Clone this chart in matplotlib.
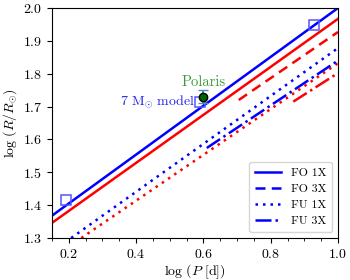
import matplotlib
matplotlib.use("Agg")
import matplotlib.pyplot as plt
from matplotlib.ticker import MultipleLocator
from matplotlib.lines import Line2D

plt.rcParams['font.family'] = 'serif'
plt.rcParams['font.serif'] = ['cmr10']
plt.rcParams['mathtext.fontset'] = 'cm'
plt.rcParams['axes.formatter.use_mathtext'] = True
plt.rcParams['font.size'] = 10

# P-R relation lines (endpoints in log P, log R)
fo1_blue_x = [0.15, 1.0]; fo1_blue_y = [1.368, 2.0]
fo1_red_x = [0.15, 1.0];  fo1_red_y = [1.346, 1.967]
fo3_red_x = [0.705, 1.0]; fo3_red_y = [1.72, 1.927]
fu1_blue_x = [0.207, 1.0]; fu1_blue_y = [1.30, 1.878]
fu1_red_x = [0.237, 1.0];  fu1_red_y = [1.30, 1.832]
fu3_blue_x = [0.61, 1.0];  fu3_blue_y = [1.574, 1.84]
fu3_red_x = [0.867, 1.0];  fu3_red_y = [1.715, 1.802]

# 7 Msun model points
model_x = [0.191, 0.589, 0.928]
model_y = [1.416, 1.715, 1.948]

# Polaris
polaris_x = [0.599]
polaris_y = [1.730]
polaris_err = [0.02]

legend_labels = ['FO 1X', 'FO 3X', 'FU 1X', 'FU 3X']

dash = (0, (4, 2.5))
dot = (0, (1, 2))

fig = plt.figure(figsize=(3.5, 2.8), dpi=100)
ax = fig.add_axes([52/350, 1 - 238/280, (338-52)/350, (238-8)/280])

ax.plot(fo1_blue_x, fo1_blue_y, color='blue', lw=1.8, ls='-')
ax.plot(fo1_red_x, fo1_red_y, color='red', lw=1.8, ls='-')
ax.plot(fo3_red_x, fo3_red_y, color='red', lw=1.8, ls=dash)
ax.plot(fu1_blue_x, fu1_blue_y, color='blue', lw=1.8, ls=dot)
ax.plot(fu1_red_x, fu1_red_y, color='red', lw=1.8, ls=dot)
ax.plot(fu3_blue_x, fu3_blue_y, color='blue', lw=1.8, ls='-.')
ax.plot(fu3_red_x, fu3_red_y, color='red', lw=1.8, ls='-.')

ax.plot(model_x, model_y, ls='none', marker='s', ms=6.5, mfc='none',
        mec='#5555ff', mew=1.1)
ax.errorbar(polaris_x, polaris_y, yerr=polaris_err, fmt='o', ms=6,
            mfc='#006400', mec='black', mew=1.0, ecolor='#4a8fb5',
            elinewidth=1.5, capsize=3.5, capthick=1.5, zorder=5)

ax.text(0.599, 1.755, 'Polaris', color='#3a9a3a', ha='center', va='bottom',
        fontsize=10.5)
ax.text(0.575, 1.715, r'$7\ \mathrm{M}_{\odot}\ \mathrm{model}$', color='#2222ee',
        ha='right', va='center', fontsize=10)

handles = [Line2D([], [], color='blue', lw=1.8, ls='-'),
           Line2D([], [], color='blue', lw=1.8, ls=dash),
           Line2D([], [], color='blue', lw=1.8, ls=dot),
           Line2D([], [], color='blue', lw=1.8, ls='-.')]
ax.legend(handles, legend_labels, loc='lower right', fontsize=8.5,
          handlelength=2.2, labelspacing=0.5, borderpad=0.5)

ax.set_xlim(0.15, 1.0)
ax.set_ylim(1.3, 2.0)
ax.xaxis.set_major_locator(MultipleLocator(0.2))
ax.xaxis.set_minor_locator(MultipleLocator(0.05))
ax.yaxis.set_major_locator(MultipleLocator(0.1))
ax.tick_params(which='both', direction='out')
ax.tick_params(axis='x', which='major', pad=4)
ax.set_xlabel(r'$\log\,(P\ [\mathrm{d}])$', labelpad=1)
ax.set_ylabel(r'$\log\,(R/R_{\odot})$', labelpad=3)

fig.savefig('out.png', dpi=100)
